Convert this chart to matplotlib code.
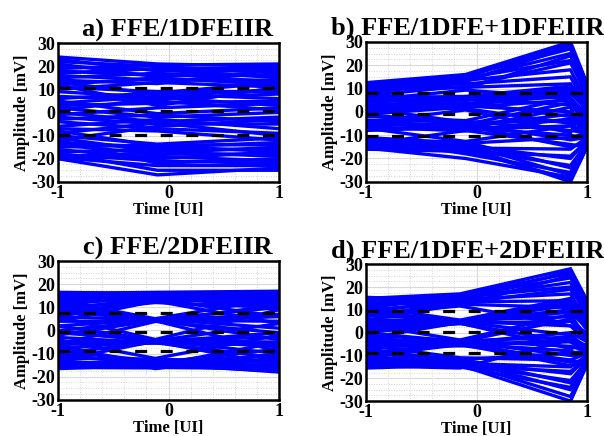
import matplotlib
matplotlib.use("Agg")
import matplotlib.pyplot as plt
from matplotlib.ticker import MultipleLocator

plt.rcParams['font.family'] = ['Liberation Serif', 'DejaVu Serif']
plt.rcParams['font.weight'] = 'bold'
plt.rcParams['axes.unicode_minus'] = False

titles = ["a) FFE/1DFEIIR", "b) FFE/1DFE+1DFEIIR",
          "c) FFE/2DFEIIR", "d) FFE/1DFE+2DFEIIR"]

# threshold levels (dashed) per panel
a_thr = [10.5, 0.5, -9.8]
b_thr = [8, -1, -10.3]
c_thr = [7.7, -0.5, -8.7]
d_thr = [9.4, 0.1, -9.0]

# ---- panel a: sample times and trace values ----
a_t = [-1, -0.1, 1]
a_start = [24, 19, 22, 17, 20, 23, 15, 18, 21, 12, 16, 10, 14,
           11, 6, 13, 4, 9, 1, 7, 3, 12, -1,
           5, -3, 2, -6, 0, -9, -2, -12, -4, -7,
           -10, -15, -8, -13, -17, -11, -19, -14, -20, -16, -18, -12, -19.5, -17.5, -20]
a_mid = [21, 20.5, 20, 19, 18.5, 18, 17, 16, 15.5, 15, 14, 13, 12.5,
         9, 8.5, 8, 7, 6.5, 6, 5, 4, 3, 2,
         -0.5, -1, -2, -3, -4, -4.5, -5, -6, -7, -8,
         -13.7, -14, -14.5, -15, -16, -17, -17.5, -18, -19, -20, -21, -22, -23, -25, -27]
a_end = [20, 21, 17, 19, 15, 18, 13, 16, 20, 12, 14, 11, 18.5,
         9, 13, 6, 10, 3, 8, 1, 5, 11, 4,
         2, -4, 0, -7, -2, -10, -5, -3, -9, -12,
         -11, -14, -17, -13, -16, -19, -15, -18, -21, -17, -22, -20, -23, -25, -24]

# ---- panel b ----
b_t = [-1, -0.1, 0.85, 1]
b_start = [12.5, 11, 12, 10, 9, 11.5, 8, 10.5, 7, 9.5, 12.2, 5,
           6, 4, 7, 2, 5, 1, 3, 0, 5.5, -1, 2.5, -4.5,
           -2, -4, 1.5, -6, -1, -5, -8, -3.5, -7, -4.5, -14, -6.5,
           -7, -12, -11, -14, -13, -12.5, -15, -16, -14.5, -16, -11.5, -15.5]
b_mid = [16, 15.5, 15, 14.5, 14, 13.5, 13, 12, 11, 10.5, 10, 9.3,
         6.6, 6.2, 5.8, 5.4, 5, 4, 3.5, 3, 2.5, 2, 1.4, 0.8,
         -3.8, -4, -4.5, -5, -5.5, -6, -6.5, -7, -7.3, -7.6, -8, -8.2,
         -12.7, -13, -13.5, -14, -14.5, -15, -15.5, -16, -16.5, -17, -18, -20]
b_peak = [30, 27, 29, 22, 25, 18, 28, 15, 21, 12, 24, 6,
          11, 6, 10, 3, 9, -2, 8, 7, 0, 5, -5, -9,
          6, -8, -4, -12, 4, -15, -1, -10, 2, -6, -14, -3,
          -6, -24, -11, -27, -20, -30, -16, -23, -29, -19, -26, -28]
b_end = [12, 10, 11.5, 6, 9, 4, 12, 2, 8, 0, 10.5, -1,
         7, -3, 5, -5, 3, -8, 1, 9, -6, -2, -10, 6,
         -4, -9, -7, -11, -2, -13, -5, -12, -14, -8, -15, -6,
         -10, -13, -9, -14, -12, -15, -11, -13.5, -15, -12.5, -14.5, -14]

# ---- panel c ----
c_t = [-1, -0.12, 1]
c_start = [16, 15, 16.5, 13, 14, 11, 15.5, 9, 12, 6, 14.5, 4, 10, 8,
           13, 8, 11, 2, 6, -2, 10, 0, 4, -6,
           6, -1, 2, -8, -5, -13, 0, -10, -3, -6,
           -4, -12, -16, -9, -14, -11, -15, -7, -16.5, -10, -15.5, -13, -16, -6]
c_mid = [16.5, 16.2, 16, 15.6, 15.2, 15, 14.6, 14.2, 14, 13.6, 13.2, 12.8, 12.4, 12.1,
         5.1, 5, 4.8, 4.7, 4.5, 4.4, 4.2, 4.1, 4, 3.9,
         -3.9, -4, -4.1, -4.3, -4.5, -4.6, -4.8, -5, -5.3, -5.5,
         -12.1, -12.4, -12.8, -13.2, -13.6, -14, -14.2, -14.6, -15, -15.2, -15.6, -16, -16.2, -16.5]
c_end = [17, 15, 16, 12, 14.5, 9, 16.5, 11, 13, 6, 15.5, 3, 14, 10,
         14, 1, 10, -4, 7, 4, -9, 11, -1, 6,
         9, -7, -3, -10, 3, -5, -15, -1, -12, -6,
         -2, -14, -17, -11, -16, -8, -18, -15, -17.5, -5, -13, -16.5, -12, -10]

# ---- panel d ----
d_t = [-1, -0.15, 0.85, 1]
d_start = [15, 13, 14.5, 11, 12, 9, 15.5, 7, 10, 5.5, 13.5, 8,
           11.5, 5, 9, 1, 8, 3, -2.5, 6, 10, 0, 4, 2,
           3.5, -4, -1, -7, 0, -11.5, -3, -9, -5, -10, -2, -6,
           -5.5, -9, -12, -15, -7, -13, -10.5, -14, -15.5, -8, -11, -14.5]
d_mid = [17, 16.5, 16, 15.5, 15, 14.5, 14, 13.5, 13, 12.5, 12, 11.7,
         5.5, 5.4, 5.2, 5, 4.9, 4.7, 4.5, 4.4, 4.2, 4.1, 4, 4,
         -3.2, -3.4, -3.6, -3.8, -4, -4.2, -4.5, -4.8, -5, -5.3, -5.5, -5.8,
         -11, -11.4, -11.8, -12.2, -12.6, -13, -13.4, -13.8, -14.2, -14.6, -15, -15.5]
d_peak = [28, 26, 24, 20, 22, 17, 27, 14, 19, 11, 25, 3,
          15, 7, 12, 3, 10, -1, 9, 14, -7, 5, -4, 13,
          8, -6, -2, -10, 6, -13, 0, -8, -14.5, -4, -12, -3,
          -12, -22, -9, -25, -18, -28, -15, -21, -30, -17, -24, -3]
d_end = [14, 12, 13.5, 8, 10, 5, 14, 3, 9, 1, 11, 0,
         8, -2, 6, -4, 4, -7, 2, 10, -5, -1, -9, 7,
         -3, -8, -6, -10, -1, -12, -4, -11, -13, -7, -14, -9,
         -9, -12, -8, -13, -11, -14, -10, -12.5, -14, -11.5, -13.5, -6]

panels = [
    (a_t, [a_start, a_mid, a_end], a_thr),
    (b_t, [b_start, b_mid, b_peak, b_end], b_thr),
    (c_t, [c_start, c_mid, c_end], c_thr),
    (d_t, [d_start, d_mid, d_peak, d_end], d_thr),
]

# axes rectangles [left, bottom, width, height] in figure fraction
rects = [
    [0.096, 0.583, 0.366, 0.318],
    [0.606, 0.583, 0.366, 0.321],
    [0.096, 0.083, 0.366, 0.318],
    [0.606, 0.080, 0.366, 0.314],
]
title_x = [0.54, 0.46, 0.54, 0.46]

fig = plt.figure(figsize=(6.04, 4.36), dpi=100)

for k, (t, cols, thr) in enumerate(panels):
    ax = fig.add_axes(rects[k])
    # eye traces
    for vals in zip(*cols):
        ax.plot(t, vals, color='#0000ff', lw=2.4, solid_joinstyle='miter',
                solid_capstyle='butt')
    for y in thr:
        ax.axhline(y, color='black', lw=2.3, ls=(0, (3.75, 4.25)), zorder=5)

    ax.set_xlim(-1, 1)
    ax.set_ylim(-30, 30)
    ax.set_xticks([-1, 0, 1])
    ax.set_yticks([-30, -20, -10, 0, 10, 20, 30])
    ax.xaxis.set_minor_locator(MultipleLocator(0.2))
    ax.yaxis.set_minor_locator(MultipleLocator(2.5))
    ax.grid(True, which='major', color='#d9d9d9', lw=0.8, zorder=0)
    ax.grid(True, which='minor', color='#c8c8c8', lw=0.6, ls=(0, (1, 2)), zorder=0)
    ax.set_axisbelow(True)
    ax.tick_params(which='both', length=0, labelsize=13, pad=2)
    for lab in ax.get_xticklabels() + ax.get_yticklabels():
        lab.set_fontweight('bold')
    for sp in ax.spines.values():
        sp.set_linewidth(1.8)
        sp.set_zorder(10)
    ax.set_xlabel('Time [UI]', fontsize=12, fontweight='bold', labelpad=0)
    ax.set_ylabel('Amplitude [mV]', fontsize=12, fontweight='bold', labelpad=1)
    ax.set_title(titles[k], fontsize=19, fontweight='bold', x=title_x[k], pad=5)

fig.savefig('out.png', dpi=100)
